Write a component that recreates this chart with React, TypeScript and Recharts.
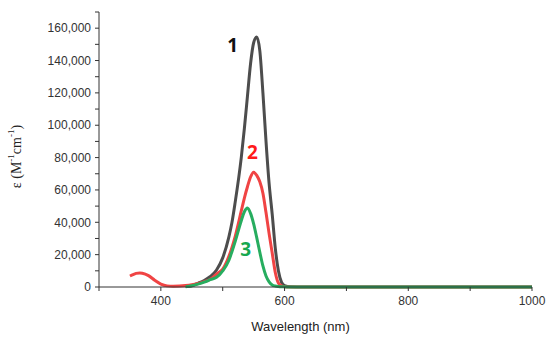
import { LineChart, Line, XAxis, YAxis, ReferenceDot } from "recharts"

// wavelengths (nm) shared by all three spectra
const wavelengths = [
  350, 355, 360, 366, 370, 380, 390, 400, 410, 420, 430, 440, 450, 460, 470, 480, 490, 500, 510,
  515, 520, 530, 535, 540, 545, 550, 555, 560, 565, 570, 575, 580, 585, 590, 595, 600, 610, 620,
  650, 700, 800, 900, 1000,
]

const compound1 = [
  null, null, null, null, null, null, null, null, null, null, null, 300, 800, 2300, 4000, 6500,
  10500, 18000, 31000, 40000, 52000, 80000, 98000, 118000, 138000, 151000, 154500, 146000, 120000,
  90000, 64000, 45000, 24000, 10000, 3000, 800, 100, 0, 0, 0, 0, 0, 0,
]
const compound2 = [
  6800, 7700, 8400, 8700, 8500, 7000, 4200, 1800, 700, 500, 600, 900, 1400, 2200, 3300, 4800,
  8000, 11000, 19000, 24500, 31000, 47000, 55000, 62000, 68000, 71000, 69000, 65000, 58000, 46000,
  33000, 21000, 9000, 2500, 800, 200, 0, 0, 0, 0, 0, 0, 0,
]
const compound3 = [
  null, null, null, null, null, null, null, null, null, null, null, 200, 800, 1800, 3000, 4500,
  6000, 10000, 16500, 22000, 28000, 41000, 46500, 48800, 45500, 39000, 30500, 21500, 13000, 6800,
  3200, 1300, 600, 300, 150, 100, 0, 0, 0, 0, 0, 0, 0,
]

const xTicks = [300, 400, 500, 600, 700, 800, 900, 1000]
const xLabelled = [400, 600, 800, 1000]
const yTicks = [
  0, 10000, 20000, 30000, 40000, 50000, 60000, 70000, 80000, 90000, 100000, 110000, 120000,
  130000, 140000, 150000, 160000, 170000,
]

const curveLabels = [
  { text: "1", x: 516, y: 149500, color: "#111111" },
  { text: "2", x: 548, y: 83000, color: "#ff1a1a" },
  { text: "3", x: 537, y: 23500, color: "#17a84f" },
]

const data = wavelengths.map((w, i) => ({
  w,
  c1: compound1[i],
  c2: compound2[i],
  c3: compound3[i],
}))

const tickFont = { fontFamily: "'Liberation Sans', Arial, sans-serif", fontSize: 12, fill: "#333" }

function YTitle(props: any) {
  const vb = props.viewBox
  const x = vb.x + 16
  const y = vb.y + vb.height / 2 + 7
  return (
    <text
      x={x}
      y={y}
      transform={`rotate(-90 ${x} ${y})`}
      textAnchor="middle"
      dominantBaseline="central"
      fontFamily="'Liberation Serif', 'Times New Roman', serif"
      fontSize={14}
      fill="#222"
    >
      ε  (M
      <tspan dy={-5} fontSize={9}>-1</tspan>
      <tspan dy={5}>cm</tspan>
      <tspan dy={-5} fontSize={9}>-1</tspan>
      <tspan dy={5}>)</tspan>
    </text>
  )
}

export default function App() {
  return (
    <div style={{ position: "absolute", left: 0, top: 0, background: "#fff" }}>
      <LineChart width={550} height={338} data={data} margin={{ top: 12, right: 18, left: 0, bottom: 0 }}>
        <XAxis
          dataKey="w"
          type="number"
          domain={[300, 1000]}
          ticks={xTicks}
          tickFormatter={(v: number) => (xLabelled.includes(v) ? String(v) : "")}
          stroke="#333"
          tickSize={4}
          tickMargin={5}
          tick={tickFont}
          height={51}
          label={{
            value: "Wavelength (nm)",
            position: "insideBottom",
            offset: 7,
            dx: -15,
            style: { fontFamily: "'Liberation Sans', Arial, sans-serif", fontSize: 13, fill: "#222" },
          }}
        />
        <YAxis
          type="number"
          domain={[0, 170000]}
          ticks={yTicks}
          interval={0}
          tickFormatter={(v: number) => (v % 20000 === 0 && v <= 160000 ? v.toLocaleString("en-US") : "")}
          stroke="#333"
          tickSize={4}
          tickMargin={4}
          tick={tickFont}
          width={99}
          label={<YTitle />}
        />
        <Line dataKey="c1" type="monotone" stroke="#4d4d4d" strokeWidth={3} dot={false} isAnimationActive={false} />
        <Line dataKey="c2" type="monotone" stroke="#f04444" strokeWidth={3} dot={false} isAnimationActive={false} />
        <Line dataKey="c3" type="monotone" stroke="#27ad5f" strokeWidth={3} dot={false} isAnimationActive={false} />
        {curveLabels.map((c) => (
          <ReferenceDot
            key={c.text}
            x={c.x}
            y={c.y}
            r={0}
            stroke="none"
            fill="none"
            label={{
              value: c.text,
              position: "center",
              fill: c.color,
              fontSize: 19,
              fontWeight: "bold",
              fontFamily: "'Open Sans', 'Liberation Sans', sans-serif",
            }}
          />
        ))}
      </LineChart>
    </div>
  )
}
